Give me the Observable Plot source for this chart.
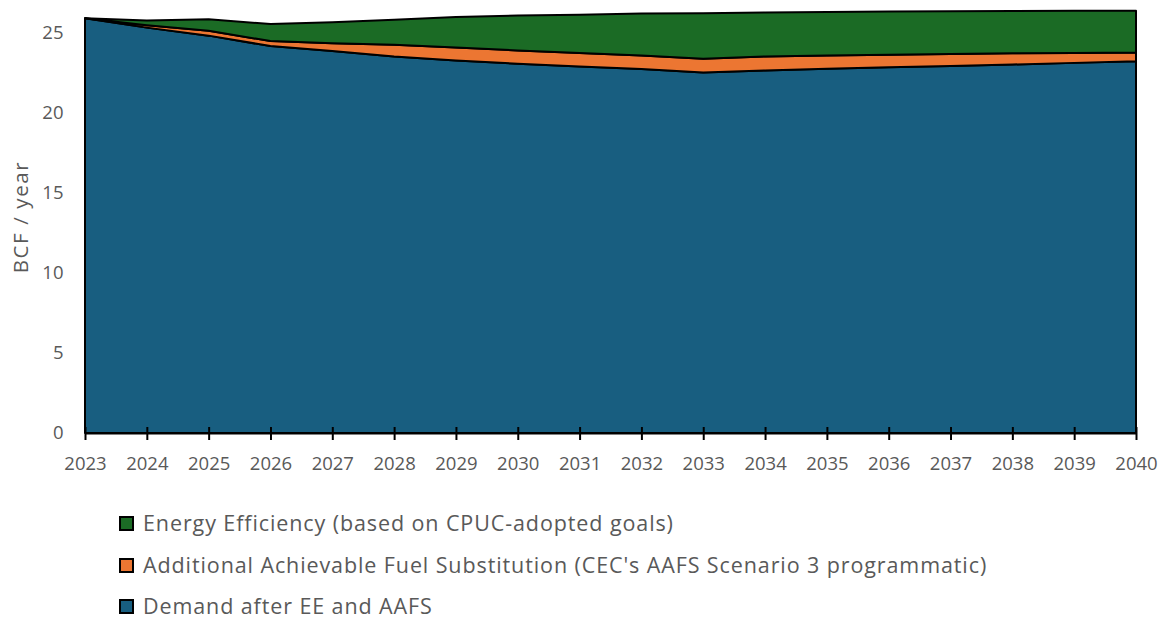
<!DOCTYPE html>
<html>
<head>
<meta charset="utf-8">
<script src="https://cdn.jsdelivr.net/npm/d3@7"></script>
<script src="https://cdn.jsdelivr.net/npm/@observablehq/plot@0.6"></script>
<style>
  html, body { margin: 0; padding: 0; background: #fff; overflow: hidden; }
  #chart svg { display: block; }
  .legend { padding-top: 22px; padding-left: 119px; font-family: "Open Sans", sans-serif; font-size: 21.5px; letter-spacing: 0.9px; color: #595959; }
  .row { height: 42px; display: flex; align-items: center; white-space: nowrap; }
  .row:last-child { height: 38px; align-items: flex-start; padding-top: 9px; box-sizing: border-box; }
  .row span.t { line-height: 1; display: inline-block; }
  .sw { width: 15px; height: 15px; box-sizing: border-box; border: 2px solid #000; margin-right: 9px; flex: none; }
  .row:last-child .sw { margin-top: 4px; }
</style>
</head>
<body>
<div id="chart"></div>
<div class="legend" id="legend"></div>
<script>
const years = [2023,2024,2025,2026,2027,2028,2029,2030,2031,2032,2033,2034,2035,2036,2037,2038,2039,2040];
const demand = [25.88,25.3,24.8,24.15,23.84,23.5,23.25,23.05,22.88,22.72,22.5,22.63,22.73,22.83,22.9,23.0,23.1,23.2];
const aafs   = [0,0.15,0.3,0.31,0.49,0.73,0.81,0.83,0.83,0.84,0.85,0.87,0.83,0.77,0.75,0.7,0.62,0.54];
const ee     = [0,0.3,0.73,1.06,1.31,1.56,1.9,2.17,2.39,2.62,2.85,2.75,2.72,2.7,2.67,2.63,2.63,2.61];
const seriesNames = ["Demand after EE and AAFS", "Additional Achievable Fuel Substitution (CEC's AAFS Scenario 3 programmatic)", "Energy Efficiency (based on CPUC-adopted goals)"];
const seriesColors = ["#185E80", "#EC7632", "#1B6B25"];
const yTicks = [0,5,10,15,20,25];
const yLabel = "BCF / year";

const seriesValues = [demand, aafs, ee];
const data = [];
seriesNames.forEach((name, i) => years.forEach((yr, j) => data.push({year: yr, series: name, value: seriesValues[i][j]})));

const chart = Plot.plot({
  width: 1168,
  height: 480,
  marginLeft: 85,
  marginRight: 32,
  marginTop: 10,
  marginBottom: 47,
  style: {fontFamily: "Open Sans, sans-serif", fontSize: "18.5px", color: "#595959", background: "#fff"},
  x: {domain: [2023, 2040]},
  y: {domain: [0, 26.4]},
  color: {domain: seriesNames, range: seriesColors},
  marks: [
    Plot.areaY(data, {x: "year", y: "value", z: "series", fill: "series", order: seriesNames, stroke: "#000", strokeWidth: 2, strokeLinejoin: "round"}),
    Plot.ruleY([0], {stroke: "#000", strokeWidth: 2}),
    Plot.axisX({ticks: years, tickFormat: () => "", tickSize: 13, dy: -6, stroke: "#000", strokeWidth: 2, label: null}),
    Plot.axisX({ticks: years, tickFormat: d => String(d), tickSize: 0, tickPadding: 23, label: null}),
    Plot.axisY({ticks: yTicks, tickSize: 0, tickPadding: 22, label: null}),
    Plot.text([yLabel], {frameAnchor: "left", rotate: -90, dx: -64, dy: -5, textAnchor: "middle", fill: "#595959", fontSize: 20.5})
  ]
});
document.getElementById("chart").appendChild(chart);
chart.querySelectorAll("text").forEach(t => { if (t.textContent === yLabel) t.style.letterSpacing = "1.6px"; });

const legend = document.getElementById("legend");
[2, 1, 0].forEach(i => {
  const row = document.createElement("div");
  row.className = "row";
  const sw = document.createElement("span");
  sw.className = "sw";
  sw.style.background = seriesColors[i];
  const t = document.createElement("span");
  t.className = "t";
  t.textContent = seriesNames[i];
  row.appendChild(sw);
  row.appendChild(t);
  legend.appendChild(row);
});
</script>
</body>
</html>
